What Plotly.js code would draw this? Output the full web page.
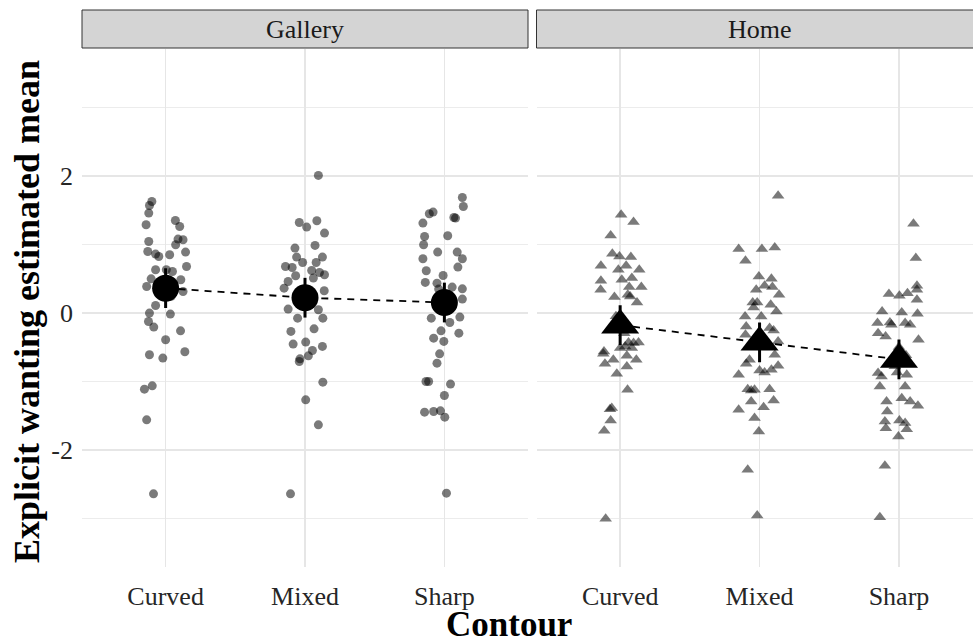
<!DOCTYPE html>
<html>
<head>
<meta charset="utf-8">
<script src="https://cdn.plot.ly/plotly-3.0.1.min.js"></script>
<style>
  html, body { margin: 0; padding: 0; background: #fff; }
  #chart { width: 973px; height: 643px; }
</style>
</head>
<body>
<div id="chart"></div>
<script>
// Contour categories and facet names
const contours = ['Curved', 'Mixed', 'Sharp'];
const facets = ['Gallery', 'Home'];
const yTickVals = [-2, 0, 2];
const yTickText = ['-2', '0', '2'];
const yMinorVals = [-3, -1, 1, 3];

// Individual ratings (y) and horizontal jitter (in category units), Gallery
const galleryCurvedY = [1.625, 1.566, 1.455, 1.285, 1.347, 1.26, 1.041, 1.076, 1.066, 0.993, 0.895, 0.886, 0.857, 0.822, 0.847, 0.676, 0.628, 0.628, 0.603, 0.496, 0.482, 0.384, 0.311, 0.107, -0.004, -0.019, -0.127, -0.209, -0.263, -0.394, -0.569, -0.613, -0.661, -1.114, -1.066, -1.562, -2.642, 0.42, 0.24];
const galleryCurvedJit = [-0.099, -0.116, -0.121, -0.14, 0.07, 0.101, -0.121, 0.089, 0.125, 0.072, -0.128, 0.143, -0.072, -0.049, 0.029, 0.15, -0.072, 0.005, 0.049, -0.104, 0.109, -0.136, 0.125, -0.072, -0.116, 0.034, -0.123, -0.085, 0.107, 0, 0.138, -0.116, -0.02, -0.152, -0.096, -0.136, -0.087, -0.03, 0.04];

const galleryMixedY = [2.005, 1.318, 1.251, 1.343, 1.163, 0.944, 0.983, 0.813, 0.813, 0.734, 0.734, 0.676, 0.661, 0.618, 0.588, 0.54, 0.555, 0.457, 0.507, 0.36, 0.321, 0.054, 0.044, -0.078, -0.078, -0.272, -0.234, -0.457, -0.428, -0.491, -0.55, -0.628, -0.672, -0.711, -1.012, -1.27, -1.635, -2.642, 0.25, 0.15];
const galleryMixedJit = [0.096, -0.041, 0.012, 0.085, 0.14, -0.072, 0.072, -0.06, 0.125, -0.017, 0.08, -0.14, -0.092, 0.048, 0.104, -0.067, 0.14, -0.121, 0.06, -0.15, 0.138, -0.121, 0.096, -0.053, 0.128, -0.101, 0.065, -0.085, 0.005, 0.125, 0.053, 0.024, -0.036, -0.041, 0.128, 0.005, 0.096, -0.104, 0.02, -0.05];

const gallerySharpY = [1.683, 1.552, 1.47, 1.445, 1.391, 1.382, 1.309, 1.114, 1.124, 0.993, 0.886, 0.886, 0.788, 0.788, 0.667, 0.613, 0.545, 0.443, 0.433, 0.375, 0.35, 0.346, 0.2, -0.078, -0.063, -0.141, -0.263, -0.297, -0.37, -0.418, -0.599, -0.735, -1.002, -1.002, -1.041, -1.207, -1.45, -1.441, -1.431, -1.523, -2.632];
const gallerySharpJit = [0.129, 0.136, -0.081, -0.108, 0.068, 0.08, -0.154, -0.142, 0.024, -0.149, -0.048, 0.092, 0.129, -0.154, 0.097, -0.13, -0.009, -0.137, -0.053, 0.056, 0.129, -0.041, 0.129, -0.094, 0.111, 0.039, -0.024, 0.104, -0.077, -0.004, -0.034, -0.053, -0.132, -0.113, 0.044, 0, -0.142, -0.077, -0.028, 0.003, 0.015];

// Individual ratings (y) and horizontal jitter, Home
const homeCurvedY = [1.431, 1.324, 1.129, 0.861, 0.822, 0.813, 0.686, 0.686, 0.628, 0.628, 0.467, 0.482, 0.507, 0.336, 0.375, 0.375, 0.263, 0.229, 0.151, 0.238, -0.565, -0.599, -0.686, -0.745, -0.628, -0.686, -0.434, -0.442, -0.434, -0.491, -0.515, -0.515, -0.783, -0.89, -1.124, -1.391, -1.406, -1.572, -1.723, -3.007, -0.05, -0.3];
const homeCurvedJit = [0.007, 0.096, -0.068, -0.056, -0.005, 0.077, -0.138, 0.043, -0.013, 0.137, -0.138, 0.012, 0.084, -0.14, 0.152, 0.065, 0.055, -0.041, 0.121, 0.072, -0.116, -0.121, -0.049, -0.109, 0.048, 0.116, 0.06, 0.096, 0.132, 0.036, 0, 0.084, 0.048, -0.024, 0.053, -0.06, -0.073, -0.068, -0.114, -0.104, -0.03, 0.03];

const homeMixedY = [1.708, 0.93, 0.93, 0.953, 0.759, 0.53, 0.496, 0.394, 0.375, 0.336, 0.263, 0.151, 0.151, 0.117, 0.077, 0.019, -0.054, -0.054, -0.2, -0.223, -0.258, -0.321, -0.418, -0.613, -0.686, -0.745, -0.774, -0.832, -0.842, -0.905, -0.871, -1.114, -1.134, -1.124, -1.114, -1.28, -1.294, -1.416, -1.377, -1.537, -1.732, -2.292, -2.959];
const homeMixedJit = [0.133, -0.15, 0.017, 0.109, -0.101, -0.005, 0.085, 0.036, 0.092, -0.024, 0.14, -0.049, -0.017, 0.08, -0.043, 0.121, -0.104, 0.012, -0.096, 0.072, 0.101, -0.101, 0.133, 0.109, -0.072, -0.096, 0.133, 0.085, 0, -0.15, 0.036, -0.085, -0.06, -0.036, 0.072, 0.101, -0.06, -0.15, 0.029, -0.036, -0.005, -0.085, -0.017];

const homeSharpY = [1.299, 0.798, 0.394, 0.273, 0.248, 0.287, 0.336, 0.19, 0.019, 0.004, -0.015, -0.15, -0.141, -0.175, -0.15, -0.175, -0.297, -0.345, -0.394, -0.88, -0.929, -0.871, -0.905, -1.075, -1.075, -1.246, -1.294, -1.358, -1.294, -1.441, -1.587, -1.684, -1.572, -1.61, -1.698, -1.806, -2.234, -2.983, -0.5, -0.62, -0.78];
const homeSharpJit = [0.104, 0.121, 0.129, -0.072, 0.003, 0.061, 0.129, 0.129, -0.121, 0.02, 0.133, -0.154, -0.065, -0.054, 0.044, 0.08, -0.15, -0.096, 0.14, -0.15, -0.125, -0.014, 0.056, -0.137, 0.044, 0.02, 0.08, 0.136, -0.089, -0.084, -0.101, -0.094, 0.003, 0.044, 0.056, -0.004, -0.101, -0.137, 0, 0.05, -0.03];

// Estimated means and interval half-widths per contour
const galleryMeans = [0.36, 0.22, 0.15];
const galleryHalfCI = [0.29, 0.29, 0.29];
const homeMeans = [-0.18, -0.43, -0.68];
const homeHalfCI = [0.29, 0.29, 0.29];

const serif = 'Liberation Serif, Times New Roman, serif';

function jitteredPoints(valueLists, jitterLists, symbol, size, xa, ya) {
  const x = [], y = [];
  valueLists.forEach((vals, i) => {
    vals.forEach((v, j) => { x.push(i + 1 + jitterLists[i][j]); y.push(v); });
  });
  return {
    type: 'scatter', mode: 'markers', x: x, y: y, xaxis: xa, yaxis: ya,
    marker: { symbol: symbol, size: size, color: '#000', opacity: 0.52, line: { width: 0 } },
    hoverinfo: 'skip', showlegend: false
  };
}

function meanTrace(means, half, symbol, size, xa, ya) {
  return {
    type: 'scatter', mode: 'lines+markers', x: [1, 2, 3], y: means, xaxis: xa, yaxis: ya,
    line: { color: '#000', width: 1.8, dash: '7px,6px' },
    marker: { symbol: symbol, size: size, color: '#000', line: { width: 0 } },
    error_y: { type: 'data', array: half, visible: true, thickness: 3, width: 0, color: '#000' },
    hoverinfo: 'skip', showlegend: false
  };
}

const data = [
  jitteredPoints([galleryCurvedY, galleryMixedY, gallerySharpY],
                 [galleryCurvedJit, galleryMixedJit, gallerySharpJit], 'circle', 9, 'x', 'y'),
  jitteredPoints([homeCurvedY, homeMixedY, homeSharpY],
                 [homeCurvedJit, homeMixedJit, homeSharpJit], 'triangle-up', 11, 'x2', 'y2'),
  meanTrace(galleryMeans, galleryHalfCI, 'circle', 27, 'x', 'y'),
  meanTrace(homeMeans, homeHalfCI, 'triangle-up', 33, 'x2', 'y2')
];

const W = 973, H = 643;
const gridColor = '#e6e6e6';
const xAxisBase = {
  tickvals: [1, 2, 3], ticktext: contours,
  showgrid: true, gridcolor: gridColor, gridwidth: 1.5,
  zeroline: false, showline: false, ticks: '',
  tickfont: { family: serif, size: 26, color: '#262626' },
  ticklabelstandoff: 11, fixedrange: true
};
const yAxisBase = {
  range: [-3.71, 3.85], domain: [(H - 567) / H, (H - 49) / H],
  tickvals: yTickVals, ticktext: yTickText,
  showgrid: true, gridcolor: gridColor, gridwidth: 1.5,
  minor: { tickvals: yMinorVals, showgrid: true, gridcolor: '#ececec', gridwidth: 1, ticks: '' },
  zeroline: false, showline: false, ticks: '',
  tickfont: { family: serif, size: 26, color: '#262626' },
  ticklabelstandoff: 8, fixedrange: true
};

const stripTop = 1 - 10 / H, stripBottom = 1 - 48 / H;
const layout = {
  width: W, height: H,
  margin: { l: 0, r: 0, t: 0, b: 0 },
  paper_bgcolor: '#fff', plot_bgcolor: 'rgba(0,0,0,0)',
  showlegend: false,
  xaxis: Object.assign({}, xAxisBase, { domain: [82 / W, 528 / W], range: [0.4, 3.6], anchor: 'y' }),
  xaxis2: Object.assign({}, xAxisBase, { domain: [536.5 / W, 1], range: [0.4, 3.531], anchor: 'y2' }),
  yaxis: Object.assign({}, yAxisBase, { anchor: 'x' }),
  yaxis2: Object.assign({}, yAxisBase, { anchor: 'x2', matches: 'y', showticklabels: false }),
  shapes: [
    { type: 'rect', xref: 'paper', yref: 'paper', x0: 82 / W, x1: 528 / W, y0: stripBottom, y1: stripTop,
      fillcolor: '#d4d4d4', line: { color: '#333', width: 1 }, layer: 'below' },
    { type: 'rect', xref: 'paper', yref: 'paper', x0: 536.5 / W, x1: 1.01, y0: stripBottom, y1: stripTop,
      fillcolor: '#d4d4d4', line: { color: '#333', width: 1 }, layer: 'below' }
  ],
  annotations: [
    { text: facets[0], xref: 'paper', yref: 'paper', x: 305 / W, y: 1 - 29 / H, showarrow: false,
      font: { family: serif, size: 26, color: '#1a1a1a' }, xanchor: 'center', yanchor: 'middle' },
    { text: facets[1], xref: 'paper', yref: 'paper', x: 760 / W, y: 1 - 29 / H, showarrow: false,
      font: { family: serif, size: 26, color: '#1a1a1a' }, xanchor: 'center', yanchor: 'middle' },
    { text: '<b>Contour</b>', xref: 'paper', yref: 'paper', x: 509 / W, y: 1 - 624 / H, showarrow: false,
      font: { family: serif, size: 35, color: '#000' }, xanchor: 'center', yanchor: 'middle' },
    { text: '<b>Explicit wanting estimated mean</b>', xref: 'paper', yref: 'paper', x: 27 / W, y: 1 - 312 / H,
      showarrow: false, textangle: -90,
      font: { family: serif, size: 36, color: '#000' }, xanchor: 'center', yanchor: 'middle' }
  ]
};

Plotly.newPlot('chart', data, layout, { staticPlot: true, displayModeBar: false });
</script>
</body>
</html>
